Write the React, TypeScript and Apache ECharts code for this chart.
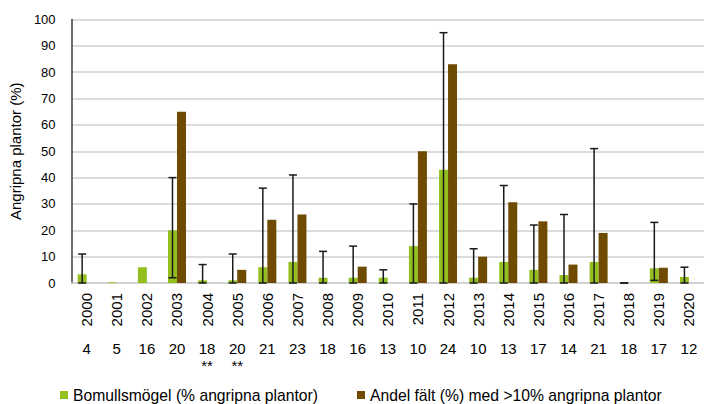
import React, { useEffect, useRef } from "react";
import * as echarts from "echarts";

const years = ["2000","2001","2002","2003","2004","2005","2006","2007","2008","2009","2010","2011","2012","2013","2014","2015","2016","2017","2018","2019","2020"];
const counts = ["4","5","16","20","18","20","21","23","18","16","13","10","24","10","13","17","14","21","18","17","12"];
const notes = ["","","","","**","**","","","","","","","","","","","","","","",""];
const bomull = [3.3,0.3,6,20,1,1,6,8,2,2,2,14,43,2,8,5,3,8,0,5.6,2.3];
const andel = [0,0,0,65,0,5,24,26,0,6.2,0,50,83,10,30.6,23.4,7,19,0,5.8,0];
const errLow: (number | null)[] = [0,null,null,2,0,0,0,0,0,0,0,0,0,0,0,0,0,0,0,1,0];
const errHigh: (number | null)[] = [11,null,null,40,7,11,36,41,12,14,5,30,95,13,37,22,26,51,0,23,6];
const yTicks = [0,10,20,30,40,50,60,70,80,90,100];

const FONT = "'Liberation Sans', Arial, sans-serif";
const GREEN = "#93c01f";
const BROWN = "#6e4b00";
const BAR_W = 9;

export default function App() {
  const ref = useRef<HTMLDivElement>(null);
  useEffect(() => {
    if (!ref.current) return;
    const chart = echarts.init(ref.current, null, { renderer: "svg" });
    const errData = years
      .map((_, i) => (errHigh[i] === null ? null : [i, errLow[i], errHigh[i]]))
      .filter((d) => d !== null);
    chart.setOption({
      animation: false,
      textStyle: { fontFamily: FONT },
      grid: { left: 70, top: 19.5, width: 640.5, height: 263.5, containLabel: false },
      legend: {
        left: 60,
        top: 387,
        padding: 0,
        itemWidth: 8,
        itemHeight: 8,
        itemGap: 39,
        icon: "rect",
        textStyle: { fontFamily: FONT, fontSize: 15.7, lineHeight: 15, color: "#000" },
        data: ["Bomullsmögel (% angripna plantor)", "Andel fält (%) med >10% angripna plantor"],
      },
      xAxis: [
        {
          type: "category",
          data: years,
          axisLine: { show: true, lineStyle: { color: "#d0d0d0", width: 1.5 } },
          axisTick: { show: false },
          axisLabel: { rotate: 90, margin: 10, fontSize: 15, color: "#000", fontFamily: FONT, interval: 0 },
        },
        {
          type: "category",
          data: years.map((_, i) => (notes[i] ? counts[i] + "\n" + notes[i] : counts[i])),
          position: "bottom",
          offset: 50,
          axisLine: { show: false },
          axisTick: { show: false },
          axisLabel: { margin: 7, fontSize: 15, lineHeight: 17, color: "#000", fontFamily: FONT, interval: 0, verticalAlign: "top" },
        },
      ],
      yAxis: {
        type: "value",
        min: yTicks[0],
        max: yTicks[yTicks.length - 1],
        interval: 10,
        name: "Angripna plantor (%)",
        nameLocation: "middle",
        nameGap: 48,
        nameTextStyle: { fontSize: 15, color: "#000", fontFamily: FONT },
        axisLine: { show: true, lineStyle: { color: "#404040", width: 1.5 } },
        axisTick: { show: false },
        axisLabel: { fontSize: 13, color: "#000", margin: 16, fontFamily: FONT },
        splitLine: { lineStyle: { color: "#d0d0d0", width: 1.5 } },
      },
      series: [
        {
          name: "Bomullsmögel (% angripna plantor)",
          type: "bar",
          data: bomull,
          barWidth: BAR_W,
          barGap: "0%",
          itemStyle: { color: GREEN },
        },
        {
          name: "Andel fält (%) med >10% angripna plantor",
          type: "bar",
          data: andel,
          barWidth: BAR_W,
          barGap: "0%",
          itemStyle: { color: BROWN },
        },
        {
          type: "custom",
          name: "err",
          data: errData,
          encode: { x: 0, y: [1, 2] },
          z: 10,
          renderItem: (params: any, api: any) => {
            const idx = api.value(0);
            const lo = api.coord([idx, api.value(1)]);
            const hi = api.coord([idx, api.value(2)]);
            const x = lo[0] - BAR_W / 2;
            const cap = 4;
            const style = { stroke: "#1a1a1a", lineWidth: 1.5 };
            return {
              type: "group",
              children: [
                { type: "line", shape: { x1: x, y1: lo[1], x2: x, y2: hi[1] }, style },
                { type: "line", shape: { x1: x - cap, y1: hi[1], x2: x + cap, y2: hi[1] }, style },
                { type: "line", shape: { x1: x - cap, y1: lo[1], x2: x + cap, y2: lo[1] }, style },
              ],
            };
          },
        },
      ],
    });
    return () => chart.dispose();
  }, []);
  return <div ref={ref} style={{ position: "fixed", left: 0, top: 0, width: 704, height: 404, background: "#fff" }} />;
}
